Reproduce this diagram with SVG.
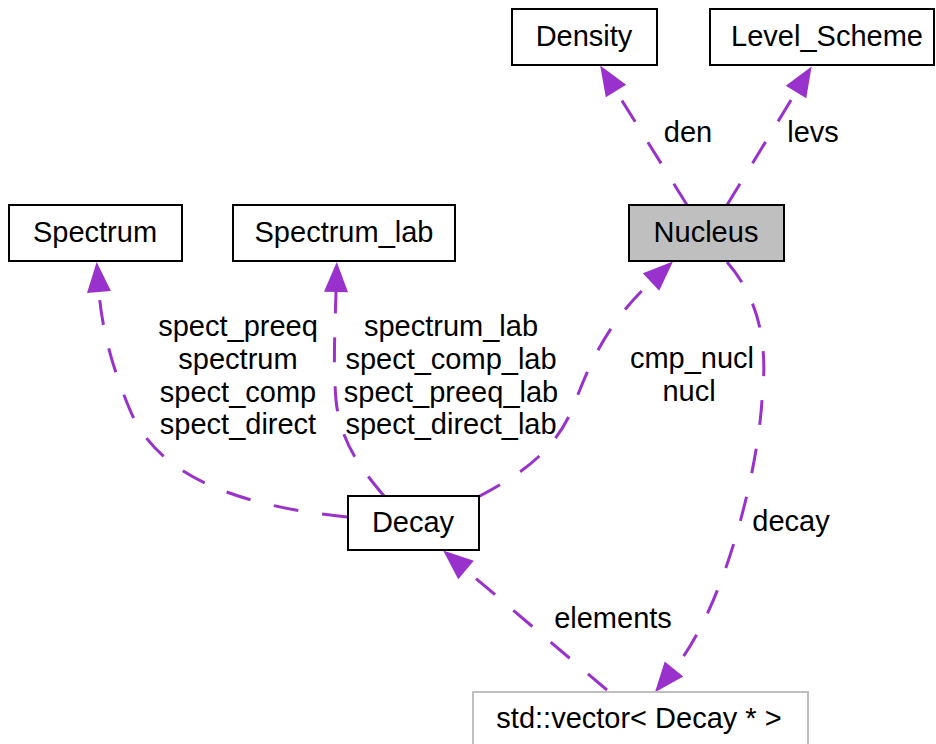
<svg xmlns="http://www.w3.org/2000/svg" width="936" height="744" viewBox="0 0 936 744">
  <style>
    .node rect { fill: #ffffff; stroke: #000000; stroke-width: 2; }
    .node.focus rect { fill: #bfbfbf; }
    .node.ext rect { stroke: #bfbfbf; }
    text { font-family: "Liberation Sans", Arial, Helvetica, sans-serif; font-size: 29px; fill: #000000; }
    .node text, .lbl { text-anchor: middle; }
    .edge { fill: none; stroke: #9932cc; stroke-width: 3; stroke-dasharray: 25 24; marker-end: url(#arrow); }
  </style>
  <defs>
    <marker id="arrow" markerUnits="userSpaceOnUse" markerWidth="30" markerHeight="24" refX="0" refY="12" orient="auto" overflow="visible">
      <path d="M0,0 L30,12 L0,24 Z" fill="#9932cc"/>
    </marker>
  </defs>

  <rect width="936" height="744" fill="#ffffff"/>

  <!-- connectors: drawn from the owning class toward the member's type -->
  <g id="connectors">
    <path class="edge" d="M687,205 L616,91"/>
    <path class="edge" d="M727,205 L796,92"/>
    <path class="edge" d="M347,517 C250,507 160,482 130,410 C113,370 102,330 99,292"/>
    <path class="edge" d="M384,496 C358,465 340,440 336,400 C333,365 335,330 336,292"/>
    <path class="edge" d="M478,497 C530,470 558,445 574,405 C590,362 608,322 651,282"/>
    <path class="edge" d="M727,262 C760,300 768,345 762,400 C758,470 725,607 674,669"/>
    <path class="edge" d="M607,690 L466,570"/>

    <text x="688" y="142" class="lbl">den</text>
    <text x="813" y="142" class="lbl">levs</text>
    <text x="238" y="336" class="lbl">spect_preeq</text>
    <text x="238" y="369" class="lbl">spectrum</text>
    <text x="238" y="402" class="lbl">spect_comp</text>
    <text x="238" y="434" class="lbl">spect_direct</text>
    <text x="451" y="336" class="lbl">spectrum_lab</text>
    <text x="451" y="369" class="lbl">spect_comp_lab</text>
    <text x="451" y="402" class="lbl">spect_preeq_lab</text>
    <text x="451" y="434" class="lbl">spect_direct_lab</text>
    <text x="692" y="368" class="lbl">cmp_nucl</text>
    <text x="689" y="401" class="lbl">nucl</text>
    <text x="791" y="531" class="lbl">decay</text>
    <text x="613" y="628" class="lbl">elements</text>
  </g>

  <g id="Density" class="node">
    <rect x="512" y="9" width="145" height="56"/>
    <text x="584" y="46">Density</text>
  </g>
  <g id="Level_Scheme" class="node">
    <rect x="710" y="9" width="224" height="56"/>
    <text x="827" y="46">Level_Scheme</text>
  </g>
  <g id="Spectrum" class="node">
    <rect x="9" y="205" width="173" height="56"/>
    <text x="95" y="242">Spectrum</text>
  </g>
  <g id="Spectrum_lab" class="node">
    <rect x="233" y="205" width="222" height="56"/>
    <text x="344" y="242">Spectrum_lab</text>
  </g>
  <g id="Nucleus" class="node focus">
    <rect x="629" y="205" width="155" height="56"/>
    <text x="706" y="242">Nucleus</text>
  </g>
  <g id="Decay" class="node">
    <rect x="348" y="496" width="131" height="54"/>
    <text x="413" y="532">Decay</text>
  </g>
  <g id="vector_Decay_ptr" class="node ext">
    <rect x="473" y="692" width="335" height="60"/>
    <text x="639" y="728">std::vector&lt; Decay * &gt;</text>
  </g>
</svg>
